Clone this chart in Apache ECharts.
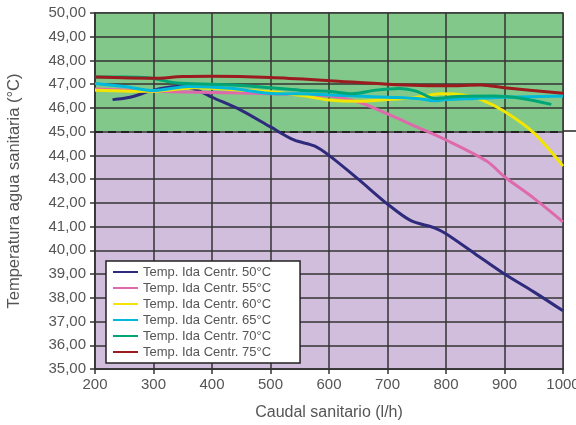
<!DOCTYPE html>
<html>
<head>
<meta charset="utf-8">
<script src="https://cdn.jsdelivr.net/npm/echarts@6/dist/echarts.min.js"></script>
<style>
  html, body { margin: 0; padding: 0; background: #fff; }
  #chart { width: 576px; height: 425px; }
</style>
</head>
<body>
<div id="chart"></div>
<script>
// caudal (l/h) -> temperatura (°C)
const serieNames = ['Temp. Ida Centr. 50°C', 'Temp. Ida Centr. 55°C', 'Temp. Ida Centr. 60°C',
                    'Temp. Ida Centr. 65°C', 'Temp. Ida Centr. 70°C', 'Temp. Ida Centr. 75°C'];
const serieColors = ['#2e2b7c', '#de6aac', '#f2e600', '#00b9db', '#00a676', '#9b1b1f'];

const ida50 = [[230,46.35],[260,46.45],[300,46.75],[340,46.9],[370,46.8],[400,46.45],[450,45.9],[500,45.2],
               [540,44.65],[575,44.4],[600,44.0],[650,43.0],[700,41.95],[740,41.25],[780,40.95],[800,40.7],
               [850,39.85],[900,39.0],[950,38.25],[1000,37.45]];
const ida55 = [[200,46.8],[300,46.7],[400,46.65],[500,46.6],[600,46.5],[650,46.25],[700,45.75],[750,45.2],
               [800,44.65],[870,43.75],[900,43.1],[950,42.2],[1000,41.2]];
const ida60 = [[200,46.75],[300,46.7],[370,46.85],[450,46.75],[500,46.68],[560,46.5],[600,46.33],[650,46.28],
               [700,46.35],[750,46.45],[790,46.6],[830,46.55],[860,46.35],[900,45.85],[950,44.95],[1000,43.55]];
const ida65 = [[200,47.03],[250,46.9],[300,46.73],[360,46.9],[430,46.83],[510,46.6],[550,46.6],
               [600,46.55],[650,46.5],[700,46.45],[750,46.4],[780,46.3],[800,46.35],[850,46.4],[900,46.45],[1000,46.5]];
const ida70 = [[200,47.3],[250,47.3],[290,47.27],[340,47.05],[400,47.0],[450,46.95],[500,46.85],[550,46.75],
               [600,46.7],[640,46.6],[680,46.75],[720,46.82],[750,46.7],[780,46.4],[820,46.48],[880,46.5],
               [930,46.4],[980,46.15]];
const ida75 = [[200,47.3],[300,47.25],[350,47.32],[400,47.33],[500,47.28],[600,47.15],[700,47.0],[800,46.93],
               [860,46.97],[900,46.85],[1000,46.62]];
const serieData = [ida50, ida55, ida60, ida65, ida70, ida75];

const zonaLimite = 45;  // linea discontinua entre zonas

let myChart = echarts.init(document.getElementById('chart'));

let series = serieNames.map(function (name, i) {
  return {
    name: name,
    type: 'line',
    data: serieData[i],
    smooth: 0.3,
    showSymbol: false,
    lineStyle: { color: serieColors[i], width: 3 },
    itemStyle: { color: serieColors[i] },
    z: 5 + i
  };
});

// zonas de fondo
series.push({
  type: 'line',
  data: [],
  silent: true,
  markArea: {
    silent: true,
    data: [
      [{ yAxis: zonaLimite, itemStyle: { color: '#82c88b' } }, { yAxis: 50 }],
      [{ yAxis: 35, itemStyle: { color: '#d1bddc' } }, { yAxis: zonaLimite }]
    ]
  },
  z: 1
});
// linea discontinua
series.push({
  type: 'line',
  data: [],
  silent: true,
  markLine: {
    silent: true,
    symbol: 'none',
    label: { show: false },
    lineStyle: { color: '#222', type: [8, 5], width: 2.2 },
    data: [{ yAxis: zonaLimite }]
  },
  z: 4
});

let option = {
  animation: false,
  textStyle: { fontFamily: 'Liberation Sans' },
  grid: {
    left: 95, right: 13, top: 13, bottom: 56,
    outerBoundsMode: 'none',
    show: true, borderColor: '#333', borderWidth: 1.5
  },
  xAxis: {
    type: 'value',
    min: 200, max: 1000, interval: 100,
    name: 'Caudal sanitario (l/h)',
    nameLocation: 'middle', nameGap: 36,
    nameTextStyle: { color: '#555', fontSize: 16 },
    axisLine: { lineStyle: { color: '#333', width: 1.5 } },
    axisTick: { show: true, length: 5, lineStyle: { color: '#333', width: 1.5 } },
    axisLabel: { color: '#555', fontSize: 15, margin: 8, formatter: function (v) { return String(v); } },
    splitLine: { show: true, lineStyle: { color: '#333', width: 1.5 } },
    z: 3
  },
  yAxis: {
    type: 'value',
    min: 35, max: 50, interval: 1,
    name: 'Temperatura agua sanitaria (°C)',
    nameLocation: 'middle', nameGap: 72, nameRotate: 90,
    nameTextStyle: { color: '#555', fontSize: 16.5 },
    axisLine: { show: true, lineStyle: { color: '#333', width: 1.5 } },
    axisTick: { show: true, length: 5, lineStyle: { color: '#333', width: 1.5 } },
    axisLabel: {
      color: '#555', fontSize: 15, margin: 9,
      formatter: function (v) { return v.toFixed(2).replace('.', ','); }
    },
    splitLine: { show: true, lineStyle: { color: '#333', width: 1.5 } },
    z: 3
  },
  legend: {
    data: serieNames,
    orient: 'vertical',
    left: 106, top: 261,
    backgroundColor: '#fff',
    borderColor: '#222', borderWidth: 1.5, borderRadius: 0,
    padding: [4, 29, 4, 7],
    itemWidth: 25, itemHeight: 2, itemGap: 2,
    icon: 'rect',
    textStyle: { color: '#555', fontSize: 13, lineHeight: 14 },
    z: 20
  },
  graphic: [
    // prolongacion de la linea discontinua fuera del area
    { type: 'line', shape: { x1: 563, y1: 131, x2: 576, y2: 131 }, style: { stroke: '#222', lineWidth: 1.5 } }
  ],
  series: series
};

myChart.setOption(option);
</script>
</body>
</html>
